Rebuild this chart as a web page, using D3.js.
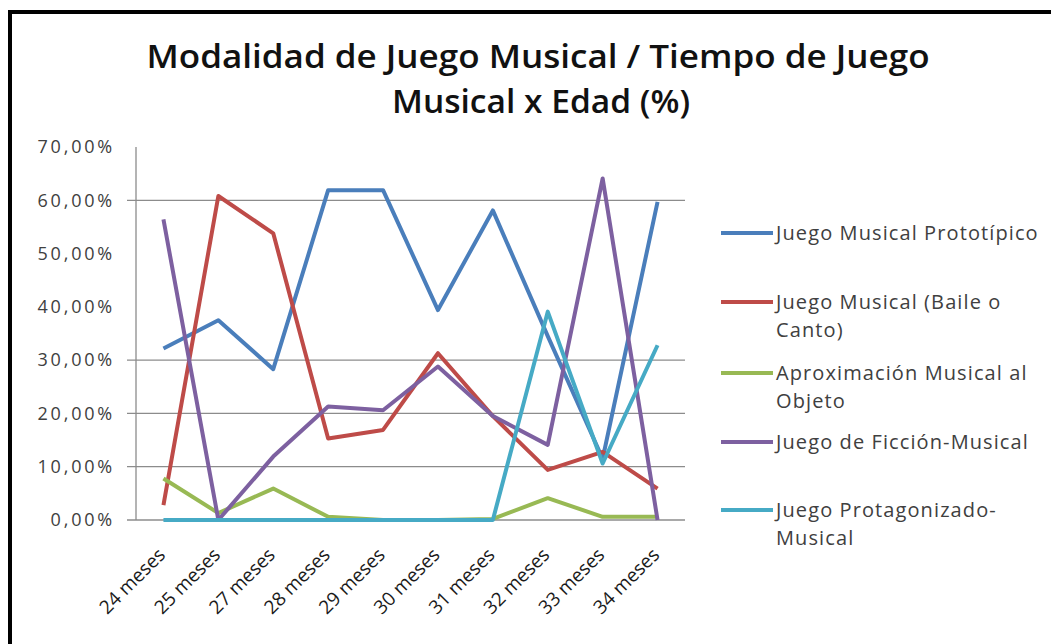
<!DOCTYPE html>
<html>
<head>
<meta charset="utf-8">
<script src="https://d3js.org/d3.v7.min.js"></script>
<style>
  body { margin: 0; background: #fff; }
  svg { display: block; }
  text { font-family: "Open Sans", "DejaVu Sans", sans-serif; }
</style>
</head>
<body>
<svg width="1051" height="644"></svg>
<script>
// categorias (edad) y valores de cada modalidad, en %
const categories = ["24 meses", "25 meses", "27 meses", "28 meses", "29 meses",
                    "30 meses", "31 meses", "32 meses", "33 meses", "34 meses"];
const prototipico   = [32.2, 37.5, 28.3, 61.9, 61.9, 39.4, 58.1, 34.5, 11.5, 59.7];
const baileCanto    = [2.8, 60.8, 53.8, 15.3, 16.9, 31.3, 19.5, 9.4, 12.8, 5.9];
const aproximacion  = [7.8, 1.3, 5.9, 0.6, 0, 0, 0.2, 4.1, 0.6, 0.6];
const ficcion       = [56.4, 0, 11.9, 21.3, 20.6, 28.8, 19.5, 14.1, 64.1, 0];
const protagonizado = [0, 0, 0, 0, 0, 0, 0, 39.1, 10.6, 32.8];

const seriesNames = [
  ["Juego Musical Prototípico"],
  ["Juego Musical (Baile o", "Canto)"],
  ["Aproximación Musical al", "Objeto"],
  ["Juego de Ficción-Musical"],
  ["Juego Protagonizado-", "Musical"]
];
const yTicks = [0, 10, 20, 30, 40, 50, 60, 70];
const gridTicks = [0, 10, 20, 30, 60];   // lineas que se ven en la imagen
const titleLines = ["Modalidad de Juego Musical / Tiempo de Juego", "Musical x Edad (%)"];

const colors = ["#4a7ebb", "#be4b48", "#98b954", "#7d60a0", "#46aac5"];
const allSeries = [prototipico, baileCanto, aproximacion, ficcion, protagonizado];

var svg = d3.select("svg");

var x = d3.scalePoint()
          .domain(categories)
          .range([136, 685])
          .padding(0.5);

var y = d3.scaleLinear()
          .domain([0, 70])
          .range([520, 147]);

// marco
svg.append("path")
   .attr("d", "M10,644 V12 H1051")
   .attr("fill", "none")
   .attr("stroke", "#000")
   .attr("stroke-width", 4);

// titulo
const titleWidth = [783, 298];
svg.append("g")
   .selectAll("text")
   .data(titleLines)
   .enter().append("text")
   .attr("x", (d, i) => i ? 541 : 538)
   .attr("y", (d, i) => 68 + i * 45)
   .attr("text-anchor", "middle")
   .attr("font-size", 32)
   .attr("font-weight", 600)
   .attr("fill", "#111")
   .attr("textLength", (d, i) => titleWidth[i])
   .attr("lengthAdjust", "spacingAndGlyphs")
   .text(d => d);

// rejilla
svg.append("g")
   .selectAll("line")
   .data(gridTicks)
   .enter().append("line")
   .attr("x1", 127)
   .attr("x2", 685)
   .attr("y1", d => y(d))
   .attr("y2", d => y(d))
   .attr("stroke", "#8c8c8c")
   .attr("stroke-width", 1.3);

// eje y
svg.append("line")
   .attr("x1", 136).attr("x2", 136)
   .attr("y1", y(70)).attr("y2", y(0))
   .attr("stroke", "#8c8c8c")
   .attr("stroke-width", 1.3);

svg.append("g")
   .selectAll("text")
   .data(yTicks)
   .enter().append("text")
   .attr("x", 115)
   .attr("y", d => y(d))
   .attr("dy", "0.35em")
   .attr("text-anchor", "end")
   .attr("font-size", 18)
   .attr("letter-spacing", 2.8)
   .attr("fill", "#404040")
   .text(d => d3.format(".2f")(d).replace(".", ",") + "%");

// etiquetas x
svg.append("g")
   .selectAll("text")
   .data(categories)
   .enter().append("text")
   .attr("transform", d => `translate(${x(d) + 3},${556}) rotate(-45)`)
   .attr("text-anchor", "end")
   .attr("font-size", 19)
   .attr("fill", "#1a1a1a")
   .text(d => d);

// lineas
var line = d3.line()
             .x((d, i) => x(categories[i]))
             .y(d => y(d));

svg.append("g")
   .selectAll("path")
   .data(allSeries)
   .enter().append("path")
   .attr("d", d => line(d))
   .attr("fill", "none")
   .attr("stroke", (d, i) => colors[i])
   .attr("stroke-width", 4)
   .attr("stroke-linejoin", "round");

// leyenda
const legendY = [233, 302, 373, 442, 510];

var legend = svg.append("g")
                .selectAll("g")
                .data(seriesNames)
                .enter().append("g")
                .attr("transform", (d, i) => `translate(0,${legendY[i]})`);

legend.append("line")
      .attr("x1", 721).attr("x2", 773)
      .attr("y1", 0).attr("y2", 0)
      .attr("stroke", (d, i) => colors[i])
      .attr("stroke-width", 4);

legend.append("text")
      .attr("x", 776)
      .attr("y", 7)
      .attr("font-size", 20)
      .attr("letter-spacing", 1.1)
      .attr("fill", "#404040")
      .selectAll("tspan")
      .data(d => d)
      .enter().append("tspan")
      .attr("x", 776)
      .attr("dy", (d, i) => i ? 28 : 0)
      .text(d => d);
</script>
</body>
</html>
